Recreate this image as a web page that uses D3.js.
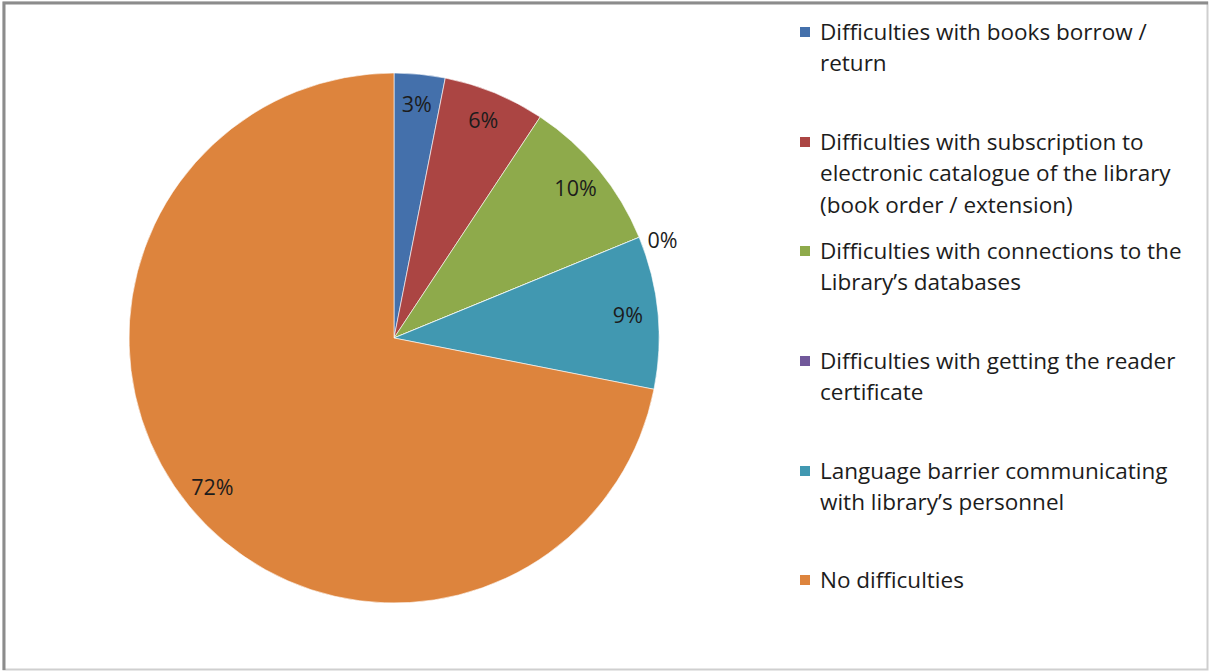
<!DOCTYPE html>
<html>
<head>
<meta charset="utf-8">
<script src="https://cdn.jsdelivr.net/npm/d3@7"></script>
<style>
  body { margin: 0; background: #fff; }
  text { font-family: "Open Sans", "Liberation Sans", sans-serif; }
</style>
</head>
<body>
<div id="chart"></div>
<script>
var svgWidth = 1210;
var svgHeight = 672;

// categories, split into the lines shown in the legend
var categories = [
  ["Difficulties with books borrow /", "return"],
  ["Difficulties with subscription to", "electronic catalogue of the library", "(book order / extension)"],
  ["Difficulties with connections to the", "Library\u2019s databases"],
  ["Difficulties with getting the reader", "certificate"],
  ["Language barrier communicating", "with library\u2019s personnel"],
  ["No difficulties"]
];
var values = [3.1, 6.2, 9.5, 0, 9.3, 71.9];
var colors = ["#4470ab", "#ab4543", "#8eaa4b", "#71589a", "#4198b1", "#dd843d"];

var cx = 394, cy = 338, radius = 265;

var svg = d3.select("#chart")
  .append("svg")
  .attr("width", svgWidth)
  .attr("height", svgHeight);

// frame
svg.append("rect")
  .attr("x", 3.5).attr("y", 2.5)
  .attr("width", 1204).attr("height", 667)
  .attr("fill", "#fff")
  .attr("stroke", "#cfcfcf")
  .attr("stroke-width", 2);
svg.append("path")
  .attr("d", "M4,670 V3 H1208")
  .attr("fill", "none")
  .attr("stroke", "#8c8c8c")
  .attr("stroke-width", 3);

var pie = d3.pie().sort(null).value(d => d);
var arcs = pie(values);

var arc = d3.arc().innerRadius(0).outerRadius(radius);
var labelArc = d3.arc().innerRadius(235).outerRadius(235);
var outerLabelArc = d3.arc().innerRadius(286).outerRadius(286);

var pieGroup = svg.append("g")
  .attr("transform", `translate(${cx}, ${cy})`);

pieGroup.selectAll("path")
  .data(arcs)
  .enter()
  .append("path")
  .attr("d", arc)
  .attr("fill", (d, i) => colors[i])
  .attr("stroke", "#fff")
  .attr("stroke-width", 0.6);

pieGroup.selectAll("text")
  .data(arcs)
  .enter()
  .append("text")
  .attr("transform", function (d) {
    // zero slices get their label outside the pie, nudged below the edge
    if (d.value === 0) {
      var o = outerLabelArc.centroid(d);
      return `translate(${o[0] + 4}, ${o[1] + 11})`;
    }
    var c = labelArc.centroid(d);
    return `translate(${c[0]}, ${c[1]})`;
  })
  .attr("text-anchor", "middle")
  .attr("dy", "0.35em")
  .attr("font-size", 21.5)
  .attr("fill", "#1c1c1c")
  .text(d => Math.round(d.value) + "%");

// legend
var lineHeight = 31.5;
var entryTops = [32, 142, 251, 361, 471, 580];

var legend = svg.append("g");

var items = legend.selectAll("g")
  .data(categories)
  .enter()
  .append("g")
  .attr("transform", (d, i) => `translate(800, ${entryTops[i]})`);

items.append("rect")
  .attr("x", 0).attr("y", -5)
  .attr("width", 10).attr("height", 10)
  .attr("fill", (d, i) => colors[i]);

items.append("text")
  .attr("x", 20)
  .attr("font-size", 22.5)
  .attr("fill", "#1c1c1c")
  .selectAll("tspan")
  .data(d => d)
  .enter()
  .append("tspan")
  .attr("x", 20)
  .attr("y", (d, j) => j * lineHeight)
  .attr("dy", "0.35em")
  .text(d => d);
</script>
</body>
</html>
